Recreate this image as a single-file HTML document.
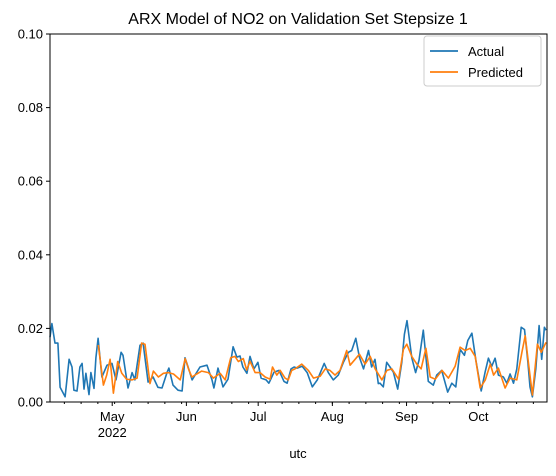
<!DOCTYPE html>
<html><head><meta charset="utf-8"><style>
body{margin:0;background:#fff}
svg{font-family:"Liberation Sans","DejaVu Sans",sans-serif}
</style></head><body>
<svg id="chart" width="556" height="471" viewBox="0 0 556 471" xmlns="http://www.w3.org/2000/svg">
<rect width="556" height="471" fill="#fff"/>
<text x="298" y="24" text-anchor="middle" font-size="16">ARX Model of NO2 on Validation Set Stepsize 1</text>
<g id="grid"></g>
<g id="series"></g>
<rect x="50" y="34" width="497" height="368" fill="none" stroke="#000" stroke-width="1"/>
<g id="axes"></g>
<text x="298" y="458" text-anchor="middle" font-size="13">utc</text>
<g>
<rect x="424" y="36" width="117" height="50" rx="3" fill="#fff" stroke="#ccc"/>
<line x1="430" y1="51" x2="458" y2="51" stroke="#1f77b4" stroke-width="1.8"/>
<text x="468" y="56" font-size="13">Actual</text>
<line x1="430" y1="72" x2="458" y2="72" stroke="#ff7f0e" stroke-width="1.8"/>
<text x="468" y="77" font-size="13">Predicted</text>
</g>
</svg>
<script>
const actualDays=[0,0.8,2.1,3.3,4.2,6.3,8.0,9.2,10.0,11.3,12.5,13.4,14.2,15.0,16.3,17.1,18.4,19.2,20.1,21.7,23.8,25.9,27.6,29.7,30.5,32.6,34.3,35.5,37.6,38.9,41.0,43.1,45.1,46.8,48.9,49.7,51.4,53.5,55.2,56.4,57.7,59.4,62.7,65.6,67.7,68.5,70.2,72.3,74.4,76.5,78.1,79.4,80.6,82.3,83.6,85.2,86.9,88.2,90.3,91.5,93.6,95.7,97.8,99.1,100.7,102.0,103.3,105.4,107.5,109.6,111.7,114.6,116.3,118.4,120.5,122.6,124.7,126.1,127.8,129.3,131.0,133.1,134.4,135.8,137.2,137.9,139.3,140.7,142.1,143.5,145.3,147.0,148.1,149.2,151.2,152.8,154.2,156.0,158.1,160.2,161.6,163.7,166.2,167.9,169.6,171.4,173.2,174.6,176.3,178.0,180.2,181.8,183.2,184.6,186.0,187.4,189.5,190.9,192.3,193.7,195.1,196.9,198.3,199.7,200.6,201.6,203.0,204.4,205.5,206.6,207.3];
const actualValues=[.0176,.0213,.016,.016,.004,.0014,.0116,.0095,.0032,.003,.0095,.0105,.0035,.0078,.002,.008,.0037,.012,.0173,.0068,.01,.0105,.006,.0135,.0127,.0038,.008,.006,.0154,.016,.0054,.0068,.004,.0038,.008,.0092,.0046,.0032,.003,.012,.0095,.006,.0095,.01,.006,.0038,.0092,.0041,.0062,.015,.0122,.0125,.0095,.0078,.0124,.009,.0108,.0065,.006,.0051,.0081,.0086,.0056,.0051,.009,.0095,.0092,.0097,.008,.0041,.006,.0105,.008,.006,.0073,.0108,.0135,.014,.0173,.0122,.009,.014,.0095,.0116,.005,.0051,.0041,.0108,.0095,.0081,.0035,.0108,.0184,.0221,.012,.008,.0113,.0195,.0056,.0046,.0073,.0086,.0027,.0051,.0041,.0143,.0127,.0167,.0187,.0113,.003,.008,.0119,.0097,.0119,.0073,.0068,.0051,.0076,.0051,.009,.0203,.0197,.0108,.0041,.0014,.009,.0208,.0116,.0203,.0195];
const predDays=[20.2,22.3,23.7,25.1,26.5,28.3,30.0,32.0,34.3,36.4,38.3,39.7,41.8,43.2,45.3,47.4,49.5,51.6,54.4,56.5,57.9,59.3,61.3,63.4,66.2,68.3,71.1,73.2,75.5,77.3,78.7,80.8,82.2,83.6,85.7,87.8,89.9,92.0,93.0,94.8,96.2,98.2,99.6,101.0,102.4,105.2,108.0,110.1,112.9,115.0,117.0,119.1,121.2,124.0,125.4,127.5,129.3,131.7,133.8,135.9,138.7,140.8,142.9,145.7,147.7,149.1,151.2,153.3,155.1,157.1,158.9,161.0,163.8,166.5,169.3,171.4,173.5,175.6,177.7,179.8,181.9,184.0,185.4,187.4,190.2,192.3,195.1,197.2,198.6,200.0,201.6,203.7,205.3,207.3];
const predValues=[.0155,.0046,.0073,.0116,.0024,.011,.0078,.0062,.006,.0065,.016,.0157,.005,.0084,.0068,.0078,.008,.0076,.006,.0118,.009,.0068,.0076,.0084,.008,.0065,.0078,.006,.012,.0124,.011,.0118,.0087,.0111,.008,.008,.0068,.0062,.0095,.0073,.0086,.0065,.006,.0086,.009,.0103,.0086,.0065,.007,.009,.0086,.0073,.0086,.014,.01,.0116,.013,.0103,.0124,.009,.006,.0086,.009,.0062,.0143,.0157,.0124,.0103,.009,.0146,.0068,.0062,.0086,.0065,.0097,.0149,.014,.0146,.0124,.0038,.006,.0103,.0073,.0092,.0038,.0065,.006,.0135,.018,.0103,.0019,.0157,.0135,.0162];
const yTicks=[0,0.02,0.04,0.06,0.08,0.10];
const yTickLabels=["0.00","0.02","0.04","0.06","0.08","0.10"];
const monthDays=[26,57,87,118,149,179];
const monthLabels=["May","Jun","Jul","Aug","Sep","Oct"];
const xMax=207.7, yMax=0.1;
const X0=50,X1=547,Y0=402,Y1=34;
const sx=d=>X0+d/xMax*(X1-X0);
const sy=v=>Y0-v/yMax*(Y0-Y1);
const NS="http://www.w3.org/2000/svg";
function mk(tag,attrs,parent,txt){const e=document.createElementNS(NS,tag);for(const k in attrs)e.setAttribute(k,attrs[k]);if(txt!==undefined)e.textContent=txt;parent.appendChild(e);return e;}
const axes=document.getElementById('axes'), series=document.getElementById('series');
yTicks.forEach((t,i)=>{
  const l=mk('line',{x1:X0-4,x2:X0,y1:sy(t),y2:sy(t),stroke:'#000'},axes);
  
  
  const tx=mk('text',{x:X0-7,y:sy(t)+4.5,'text-anchor':'end','font-size':'13'},axes,yTickLabels[i]);
  
  
});
for(let d=6;d<=xMax;d+=7){
  const l=mk('line',{x1:sx(d),x2:sx(d),y1:Y0,y2:Y0+2,stroke:'#000'},axes);
  
  
}
monthDays.forEach((d,i)=>{
  const l=mk('line',{x1:sx(d),x2:sx(d),y1:Y0,y2:Y0+4,stroke:'#000'},axes);
  
  
  const tx=mk('text',{x:sx(d),y:Y0+19,'text-anchor':'middle','font-size':'13'},axes,monthLabels[i]);
  
  
});
const yr=mk('text',{x:sx(monthDays[0]),y:Y0+35,'text-anchor':'middle','font-size':'13'},axes,'2022');


function line(days,vals,color,name){
  const pts=days.map((d,i)=>sx(d).toFixed(1)+','+sy(vals[i]).toFixed(1)).join(' ');
  const p=mk('polyline',{points:pts,fill:'none',stroke:color,'stroke-width':'1.6','stroke-linejoin':'round'},series);
  
  
}
line(actualDays,actualValues,'#1f77b4','actual-line');
line(predDays,predValues,'#ff7f0e','predicted-line');
</script>
</body></html>
